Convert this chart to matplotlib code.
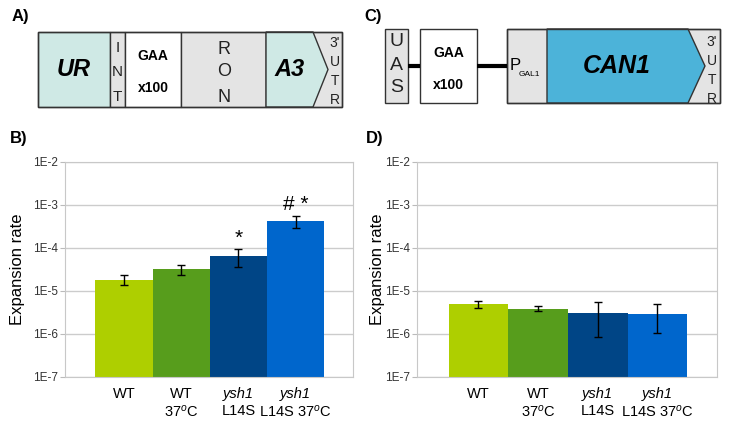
import numpy as np
import matplotlib
matplotlib.use('Agg')
import matplotlib.pyplot as plt
from matplotlib.patches import Rectangle, Polygon

plt.rcParams['font.family'] = ['Liberation Sans', 'DejaVu Sans']
plt.rcParams['mathtext.fontset'] = 'custom'
plt.rcParams['mathtext.rm'] = 'Liberation Sans'
plt.rcParams['mathtext.it'] = 'Liberation Sans:italic'
plt.rcParams['mathtext.bf'] = 'Liberation Sans:bold'

# data
label_top = ['WT', 'WT', 'ysh1', 'ysh1']
label_top_italic = [False, False, True, True]
label_bottom = ['', '37$^{o}$C', 'L14S', 'L14S 37$^{o}$C']
bar_colors = ['#aecf00', '#579d1c', '#004586', '#0066cc']

rate_b = [1.83e-5, 3.2e-5, 6.5e-5, 4.2e-4]
err_hi_b = [2.3e-5, 3.97e-5, 9.6e-5, 5.6e-4]
err_lo_b = [1.36e-5, 2.3e-5, 3.55e-5, 2.9e-4]
marks_b = ['', '', '*', '# *']

rate_d = [4.9e-6, 3.8e-6, 3.16e-6, 2.9e-6]
err_hi_d = [5.9e-6, 4.4e-6, 5.5e-6, 4.9e-6]
err_lo_d = [4.0e-6, 3.45e-6, 0.85e-6, 1.05e-6]

yticks = [1e-7, 1e-6, 1e-5, 1e-4, 1e-3, 1e-2]
ytick_labels = ['1E-7', '1E-6', '1E-5', '1E-4', '1E-3', '1E-2']

TEAL = '#cfe9e5'
GREY = '#e4e4e4'
CAN_BLUE = '#4cb3d9'
EDGE = '#333333'

fig = plt.figure(figsize=(7.29, 4.24), dpi=100)

# construct diagrams drawn in pixel space
dax = fig.add_axes([0, 0, 1, 1])
dax.set_xlim(0, 729)
dax.set_ylim(424, 0)
dax.axis('off')


def stack(x, ys, letters, size):
    for y, s in zip(ys, letters):
        dax.text(x, y, s, ha='center', va='center', fontsize=size, color='#222222')


def box(x0, x1, y0, y1, fc):
    dax.add_patch(Rectangle((x0, y0), x1 - x0, y1 - y0, facecolor=fc,
                            edgecolor=EDGE, lw=1.0))


# A) URA3 reporter
top, bot = 32, 107
box(38, 110, top, bot, TEAL)
dax.text(74, 70, 'UR', ha='center', va='center', fontsize=17,
         fontweight='bold', fontstyle='italic')
box(110, 125, top, bot, GREY)
stack(117.5, [48, 72, 97], ['I', 'N', 'T'], 11)
box(125, 181, top, bot, 'white')
dax.text(153, 56, 'GAA', ha='center', va='center', fontsize=10, fontweight='bold')
dax.text(153, 88, 'x100', ha='center', va='center', fontsize=10, fontweight='bold')
box(181, 266, top, bot, GREY)
stack(224, [49, 72, 97], ['R', 'O', 'N'], 13)
box(266, 342, top, bot, GREY)
dax.add_patch(Polygon([(266, top), (313, top), (328, (top + bot) / 2), (313, bot), (266, bot)],
                      closed=True, facecolor=TEAL, edgecolor=EDGE, lw=1.0))
dax.add_patch(Rectangle((38, top), 304, bot - top, fill=False, edgecolor=EDGE, lw=1.0))
dax.text(290, 70, 'A3', ha='center', va='center', fontsize=17,
         fontweight='bold', fontstyle='italic')
stack(335, [43, 62, 81, 100], ["3'", 'U', 'T', 'R'], 10)
dax.text(12, 17, 'A)', ha='left', va='center', fontsize=12, fontweight='bold')

# C) CAN1 reporter
top, bot = 29, 103
mid = (top + bot) / 2
dax.plot([408, 420], [mid, mid], color='black', lw=3, solid_capstyle='butt')
dax.plot([477, 507], [mid, mid], color='black', lw=3, solid_capstyle='butt')
box(385, 408, top, bot, GREY)
stack(396.5, [42, 65, 88], ['U', 'A', 'S'], 14)
box(420, 477, top, bot, 'white')
dax.text(448.5, 53, 'GAA', ha='center', va='center', fontsize=10, fontweight='bold')
dax.text(448.5, 85, 'x100', ha='center', va='center', fontsize=10, fontweight='bold')
box(507, 720, top, bot, GREY)
dax.add_patch(Polygon([(547, top), (688, top), (705, mid), (688, bot), (547, bot)],
                      closed=True, facecolor=CAN_BLUE, edgecolor=EDGE, lw=1.0))
dax.add_patch(Rectangle((507, top), 213, bot - top, fill=False, edgecolor=EDGE, lw=1.0))
dax.text(510, mid, 'P', ha='left', va='center', fontsize=12)
dax.text(519, mid + 9, 'GAL1', ha='left', va='center', fontsize=6)
dax.text(617, mid, 'CAN1', ha='center', va='center', fontsize=18,
         fontweight='bold', fontstyle='italic')
stack(712, [42, 61, 80, 99], ["3'", 'U', 'T', 'R'], 10)
dax.text(364, 17, 'C)', ha='left', va='center', fontsize=12, fontweight='bold')

dax.text(10, 139, 'B)', ha='left', va='center', fontsize=12, fontweight='bold')
dax.text(366, 139, 'D)', ha='left', va='center', fontsize=12, fontweight='bold')


def bar_panel(rect, rates, lo, hi, label_x):
    ax = fig.add_axes(rect)
    x = np.arange(len(rates))
    yerr = [np.array(rates) - np.array(lo), np.array(hi) - np.array(rates)]
    ax.bar(x, rates, width=1.0, color=bar_colors, zorder=2)
    ax.errorbar(x, rates, yerr=yerr, fmt='none', ecolor='black', elinewidth=1,
                capsize=3, capthick=1, zorder=3)
    ax.set_yscale('log')
    ax.set_ylim(1e-7, 1e-2)
    ax.set_xlim(-1.03, len(rates))
    ax.set_yticks(yticks)
    ax.set_yticklabels(ytick_labels, fontsize=8.5, color='#333333')
    ax.minorticks_off()
    ax.set_xticks(x)
    ax.set_xticklabels([''] * len(x))
    ax.tick_params(axis='x', length=0)
    ax.tick_params(axis='y', length=3.5, color='#bbbbbb', pad=1.5)
    ax.yaxis.grid(True, color='#cccccc', lw=1, zorder=0)
    for s in ax.spines.values():
        s.set_color('#c8c8c8')
    ax.set_ylabel('Expansion rate', fontsize=12)
    ax.yaxis.set_label_coords(label_x, 0.5)
    tr = ax.get_xaxis_transform()
    for i in x:
        ax.text(i, -0.079, label_top[i], transform=tr, ha='center', va='center',
                fontsize=10.5, fontstyle='italic' if label_top_italic[i] else 'normal')
        if label_bottom[i]:
            ax.text(i, -0.16, label_bottom[i], transform=tr, ha='center', va='center',
                    fontsize=10.5)
    return ax


axb = bar_panel([65 / 729, 47 / 424, 288 / 729, 215 / 424], rate_b, err_lo_b, err_hi_b, -0.139)
for i, m in enumerate(marks_b):
    if m:
        axb.annotate(m, (i, err_hi_b[i]), xytext=(0, 1), textcoords='offset points',
                     ha='center', va='bottom', fontsize=15)

axd = bar_panel([417 / 729, 47 / 424, 300 / 729, 215 / 424], rate_d, err_lo_d, err_hi_d, -0.107)

fig.savefig('out.png', dpi=100)
